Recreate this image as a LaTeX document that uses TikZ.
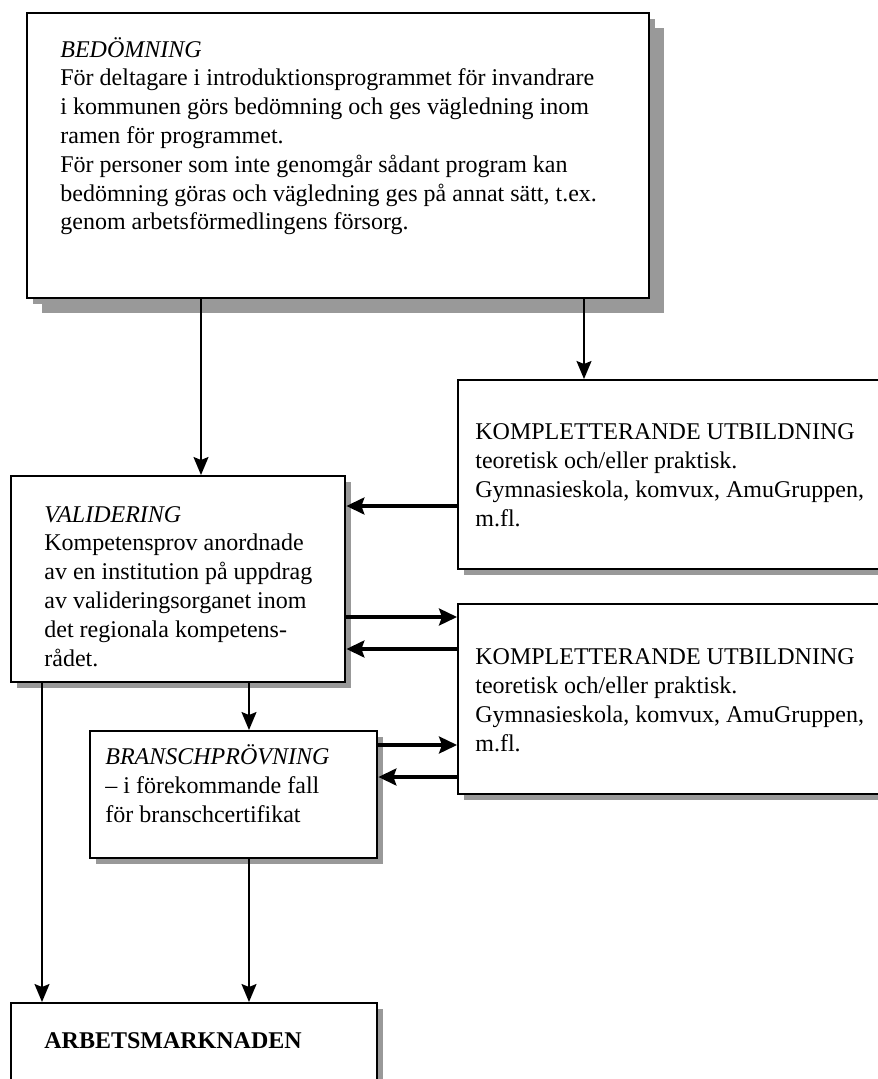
\documentclass[tikz,border=0pt]{standalone}
\usepackage{fontspec}
\setmainfont{Liberation Serif}
\usetikzlibrary{arrows.meta,shadows}

\tikzset{
  box/.style={draw, line width=1.2pt, fill=white, anchor=north west, inner sep=0pt,
    drop shadow={shadow xshift=3pt, shadow yshift=-3pt, fill=black!40, opacity=1}},
  bigbox/.style={box, drop shadow={shadow xshift=7.5pt, shadow yshift=-7.5pt, fill=black!40, opacity=1}},
  txt/.style={anchor=base west, align=left, inner sep=0pt, font=\fontsize{12pt}{14.4pt}\selectfont},
  varr/.style={line width=0.9pt, -{Stealth[length=9pt, width=7.5pt, inset=1.5pt]}},
  harr/.style={line width=1.6pt, -{Stealth[length=9pt, width=8.5pt, inset=1.5pt]}}
}

\begin{document}
\begin{tikzpicture}[x=0.5pt, y=-0.5pt]

\useasboundingbox (0,0) rectangle (877,1079);

% boxes
\node[bigbox, minimum width=311pt, minimum height=142.5pt] (bed) at (26,12) {};
\node[box, minimum width=220pt, minimum height=94.5pt] (komp1) at (457,379) {};
\node[box, minimum width=167pt, minimum height=103pt] (valid) at (10,475) {};
\node[box, minimum width=220pt, minimum height=95pt] (komp2) at (457,603) {};
\node[box, minimum width=143.5pt, minimum height=63.5pt] (bransch) at (89,730) {};
\node[box, minimum width=183pt, minimum height=60pt] (arbets) at (10,1002) {};

% texts (anchored at the baseline of the last line)
\node[txt] (bedtxt) at (60,230) {\textit{BEDÖMNING}\\
För deltagare i introduktionsprogrammet för invandrare\\
i kommunen görs bedömning och ges vägledning inom\\
ramen för programmet.\\
För personer som inte genomgår sådant program kan\\
bedömning göras och vägledning ges på annat sätt, t.ex.\\
genom arbetsförmedlingens försorg.};
\node[txt] (komp1txt) at (475,526) {KOMPLETTERANDE UTBILDNING\\
teoretisk och/eller praktisk.\\
Gymnasieskola, komvux, AmuGruppen,\\
m.fl.};
\node[txt] (validtxt) at (44,666) {\textit{VALIDERING}\\
Kompetensprov anordnade\\
av en institution på uppdrag\\
av valideringsorganet inom\\
det regionala kompetens-\\
rådet.};
\node[txt] (komp2txt) at (475,751) {KOMPLETTERANDE UTBILDNING\\
teoretisk och/eller praktisk.\\
Gymnasieskola, komvux, AmuGruppen,\\
m.fl.};
\node[txt] (branschtxt) at (105,822) {\textit{BRANSCHPRÖVNING}\\
– i förekommande fall\\
för branschcertifikat};
\node[txt] (arbetstxt) at (44,1048) {\textbf{ARBETSMARKNADEN}};

% arrows
\draw[varr] (bed.south -| 201,0) -- (valid.north -| 201,0);
\draw[varr] (bed.south -| 584,0) -- (komp1.north -| 584,0);
\draw[harr] (komp1.west |- 0,506) -- (valid.east |- 0,506);
\draw[harr] (valid.east |- 0,617) -- (komp2.west |- 0,617);
\draw[harr] (komp2.west |- 0,649) -- (valid.east |- 0,649);
\draw[varr] (valid.south -| 249,0) -- (bransch.north -| 249,0);
\draw[harr] (bransch.east |- 0,745) -- (komp2.west |- 0,745);
\draw[harr] (komp2.west |- 0,777) -- (bransch.east |- 0,777);
\draw[varr] (valid.south -| 42,0) -- (arbets.north -| 42,0);
\draw[varr] (bransch.south -| 249,0) -- (arbets.north -| 249,0);

\end{tikzpicture}
\end{document}
